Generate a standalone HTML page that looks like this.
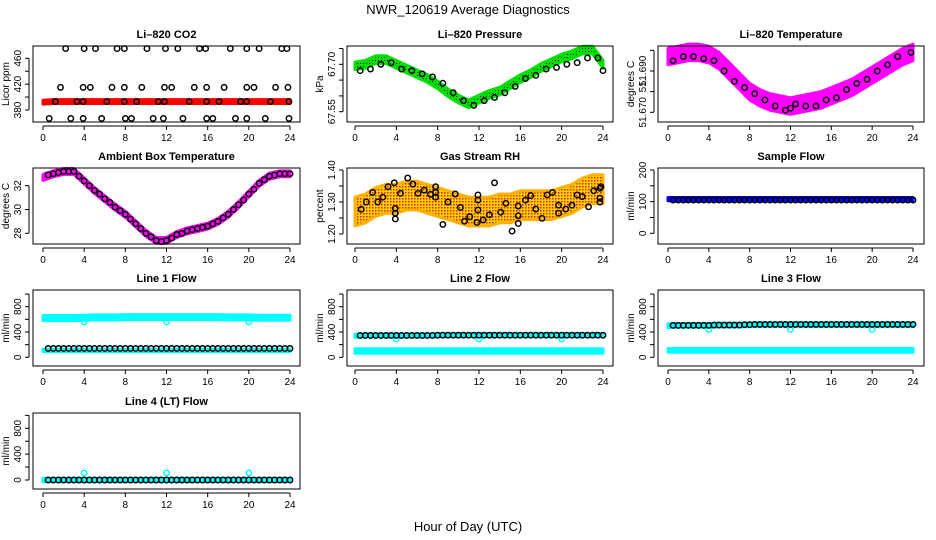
<!DOCTYPE html>
<html><head><meta charset="utf-8"><style>
html,body{margin:0;padding:0;background:#fff;}
svg{display:block;font-family:"Liberation Sans",Arial,sans-serif;}
</style></head><body>
<svg id="chart" width="936" height="540" viewBox="0 0 936 540">
<defs>
<pattern id="greenDots" width="3" height="3" patternUnits="userSpaceOnUse"><rect width="3" height="3" fill="#00e000"/><rect width="1" height="1" fill="#000"/></pattern>
<pattern id="orangeDots" width="3" height="3" patternUnits="userSpaceOnUse"><rect width="3" height="3" fill="#ffd000"/><rect width="1.5" height="1.5" fill="#e02000"/></pattern>
</defs>
<text x="468" y="14" text-anchor="middle" font-size="13">NWR_120619  Average Diagnostics</text>
<text x="468" y="531" text-anchor="middle" font-size="13">Hour of Day (UTC)</text>
</svg>
<script>
// ---------- data ----------
const xTicks = [0,4,8,12,16,20,24];
const HOURS = [0,1,2,3,4,5,6,7,8,9,10,11,12,13,14,15,16,17,18,19,20,21,22,23,24];
const HALF = [0.5,1,1.5,2,2.5,3,3.5,4,4.5,5,5.5,6,6.5,7,7.5,8,8.5,9,9.5,10,10.5,11,11.5,12,12.5,13,13.5,14,14.5,15,15.5,16,16.5,17,17.5,18,18.5,19,19.5,20,20.5,21,21.5,22,22.5,23,23.5,24];

// CO2
const co2Band = [392,393,393,393,393,393,393,393,393,393,393,393,393,393,393,393,393,393,393,393,393,393,393,393,393];
const co2Hours = [2.2,4.0,5.1,7.2,7.9,10.1,11.9,13.1,15.2,15.8,18.2,19.8,21.0,23.2,23.7, 1.7,3.9,4.6,6.7,7.9,9.6,11.8,12.5,14.7,15.9,17.6,19.8,20.5,22.6,23.8, 1.2,3.3,3.9,6.2,7.9,9.1,11.2,11.8,14.2,15.9,17.1,19.2,19.8,22.1,23.9, 0.6,2.7,3.9,5.7,8.0,8.6,10.7,11.7,13.6,15.9,16.5,18.7,19.8,21.6,23.9];
const co2Vals = [475,475,475,475,475,475,475,475,475,475,475,475,475,475,475, 415,415,415,415,415,415,415,415,415,415,415,415,415,415,415, 393,393,393,393,393,393,393,393,393,393,393,393,393,393,393, 367,367,367,367,367,367,367,367,367,367,367,367,367,367,367];

// Pressure
const presBand = [67.695,67.70,67.715,67.715,67.70,67.685,67.67,67.655,67.635,67.61,67.59,67.575,67.59,67.605,67.615,67.635,67.655,67.67,67.69,67.705,67.72,67.73,67.745,67.745,67.70];
const presHours = [0.5,1.5,2.5,3.5,4.5,5.5,6.5,7.5,8.5,9.5,10.5,11.5,12.5,13.5,14.5,15.5,16.5,17.5,18.5,19.5,20.5,21.5,22.5,23.5,24];
const presVals = [67.68,67.685,67.70,67.705,67.685,67.68,67.67,67.66,67.64,67.61,67.585,67.57,67.585,67.595,67.61,67.63,67.655,67.665,67.685,67.69,67.70,67.705,67.72,67.72,67.68];

// Li-820 temperature
const tempBand = [51.697,51.698,51.699,51.699,51.698,51.695,51.690,51.685,51.680,51.677,51.675,51.674,51.673,51.674,51.675,51.676,51.678,51.680,51.682,51.685,51.688,51.691,51.694,51.697,51.699];
const tempHours = [0.5,1.5,2.5,3.5,4.5,5.5,6.5,7.5,8.5,9.5,10.5,11.5,12,12.5,13.5,14.5,15.5,16.5,17.5,18.5,19.5,20.5,21.5,22.5,23.8];
const tempVals = [51.695,51.697,51.697,51.696,51.695,51.690,51.685,51.682,51.679,51.676,51.673,51.671,51.672,51.674,51.673,51.673,51.676,51.677,51.681,51.684,51.686,51.690,51.693,51.697,51.699];

// Ambient box temperature
const ambBand = [32.7,33.0,33.2,33.2,32.4,31.6,30.9,30.2,29.6,28.8,28.0,27.4,27.4,27.9,28.2,28.4,28.6,29.0,29.6,30.4,31.3,32.2,32.8,33.0,33.0];
const ambVals = [32.9,33.0,33.1,33.2,33.2,33.2,32.8,32.4,32.0,31.6,31.3,30.9,30.6,30.2,29.9,29.6,29.2,28.8,28.4,28.0,27.7,27.4,27.3,27.4,27.6,27.9,28.0,28.2,28.3,28.4,28.5,28.6,28.8,29.0,29.3,29.6,30.0,30.4,30.8,31.3,31.7,32.2,32.5,32.8,32.9,33.0,33.0,33.0];

// Gas stream RH
const rhBand = [1.27,1.28,1.30,1.31,1.31,1.32,1.32,1.31,1.30,1.29,1.28,1.27,1.27,1.27,1.28,1.28,1.29,1.29,1.29,1.29,1.30,1.31,1.33,1.34,1.34];
const rhHours = [0.6,1.1,1.7,2.2,2.7,3.2,3.8,3.9,3.9,3.9,4.4,5.1,5.6,6.1,6.7,7.3,7.8,7.8,7.8,8.5,9.0,9.7,10.2,10.6,11.1,11.8,11.9,11.9,11.9,12.4,13.0,13.5,14.1,14.6,15.2,15.8,15.8,15.8,16.5,17.0,17.5,18.1,18.6,19.1,19.7,19.7,20.4,21.0,21.5,22.0,22.6,23.1,23.7,23.8,23.7,23.7];
const rhVals = [1.277,1.30,1.33,1.30,1.315,1.348,1.36,1.28,1.265,1.247,1.327,1.375,1.356,1.327,1.337,1.324,1.348,1.33,1.315,1.23,1.30,1.325,1.283,1.24,1.254,1.236,1.275,1.322,1.306,1.244,1.26,1.36,1.268,1.296,1.209,1.2875,1.257,1.233,1.306,1.32,1.278,1.249,1.322,1.33,1.29,1.265,1.278,1.29,1.322,1.317,1.285,1.335,1.343,1.348,1.312,1.30];

// Sample flow
const sampBand = [108,108,108,108,108,108,108,108,108,108,108,108,108,108,108,108,108,108,108,108,108,108,108,108,108];
const sampVals = [105,105,105,105,105,105,105,105,105,105,105,105,105,105,105,105,105,105,105,105,105,105,105,105,105,105,105,105,105,105,105,105,105,105,105,105,105,105,105,105,105,105,105,105,105,105,105,105];

// Line flows
const l1Cyan = [620,620,620,620,625,630,630,630,635,635,635,635,635,635,635,635,635,635,630,630,630,625,625,625,625];
const l1Black = [140,140,140,140,140,140,140,140,140,140,140,140,140,140,140,140,140,140,140,140,140,140,140,140,140,140,140,140,140,140,140,140,140,140,140,140,140,140,140,140,140,140,140,140,140,140,140,140];
const l1LowCyan = [110,110,110,110,110,110,110,110,110,110,110,110,110,110,110,110,110,110,110,110,110,110,110,110,110];
const l2Cyan = [100,100,100,100,100,100,100,100,100,100,100,100,100,100,100,100,100,100,100,100,100,100,100,100,100];
const l2HighCyan = [340,345,345,345,345,345,345,345,350,350,350,350,350,350,350,350,350,350,350,350,350,350,350,350,350];
const l2Black = [345,345,345,345,345,345,345,345,345,345,345,345,345,345,345,350,350,350,350,350,350,350,350,350,350,350,350,350,350,350,350,350,350,350,350,350,350,350,350,350,350,350,350,350,350,350,350,350];
const l3Cyan = [110,110,110,110,110,110,110,110,110,110,110,110,110,110,110,110,110,110,110,110,110,110,110,110,110];
const l3HighCyan = [500,505,505,505,505,510,510,510,515,515,515,515,515,515,515,515,515,515,515,515,515,515,515,515,515];
const l3Black = [505,505,505,505,505,505,505,505,510,510,510,510,510,510,515,515,520,520,520,520,520,520,520,520,520,520,520,520,520,520,520,520,520,520,520,520,520,520,520,520,520,520,520,520,520,520,520,520];
const l4Cyan = [0,0,0,0,0,0,0,0,0,0,0,0,0,0,0,0,0,0,0,0,0,0,0,0,0];
const l4Black = [0,0,0,0,0,0,0,0,0,0,0,0,0,0,0,0,0,0,0,0,0,0,0,0,0,0,0,0,0,0,0,0,0,0,0,0,0,0,0,0,0,0,0,0,0,0,0,0];
const outlierHours = [4,12,20];
const l1Outliers = [560,560,560];
const l2Outliers = [290,290,290];
const l3Outliers = [440,440,440];
const l4Outliers = [110,110,110];

// ---------- drawing ----------
const NS = 'http://www.w3.org/2000/svg';
const svg = document.getElementById('chart');
function mk(tag, attrs, parent){ const e=document.createElementNS(NS,tag); for(const k in attrs) e.setAttribute(k,attrs[k]); (parent||svg).appendChild(e); return e; }

function panel(p){
  const g = mk('g',{});
  
  
  const xs = h => p.xa + (p.xb - p.xa) * h / 24;
  const ys = v => p.p1 + (p.p2 - p.p1) * (v - p.v1) / (p.v2 - p.v1);
  // series
  p.series.forEach(s=>{
    if(s.type==='band'){
      const top=[], bot=[];
      s.h.forEach((h,i)=>{ top.push(xs(h)+','+ys(s.v[i]+s.w)); bot.unshift(xs(h)+','+ys(s.v[i]-s.w)); });
      const poly = mk('polygon',{points:top.concat(bot).join(' '), fill:s.fill, stroke:s.stroke||s.fill, 'stroke-width':3, 'stroke-linejoin':'round'}, g);
      
      
    } else {
      const sg = mk('g',{}, g);
      
      
      s.h.forEach((h,i)=>{
        const c = mk('circle',{cx:xs(h), cy:ys(s.v[i]), r:2.7, fill:'none', stroke:s.color, 'stroke-width':1.5}, sg);
        
        
      });
    }
  });
  // box
  const box = mk('rect',{x:p.x0, y:p.y0, width:p.x1-p.x0, height:p.y1-p.y0, fill:'none', stroke:'#000', 'stroke-width':1}, g);
  
  
  // title
  const t = mk('text',{x:(p.x0+p.x1)/2, y:p.y0-8, 'text-anchor':'middle', 'font-size':11, 'font-weight':'bold'}, g);
  t.textContent = p.title;
  
  
  // x axis
  const xa = mk('g',{}, g);
  
  
  mk('line',{x1:xs(0), x2:xs(24), y1:p.y1+4, y2:p.y1+4, stroke:'#000'}, xa);
  xTicks.forEach(h=>{
    mk('line',{x1:xs(h), x2:xs(h), y1:p.y1+4, y2:p.y1+8, stroke:'#000'}, xa);
    const tl = mk('text',{x:xs(h), y:p.y1+19, 'text-anchor':'middle', 'font-size':10}, xa);
    tl.textContent = h;
    
    
  });
  // y axis
  const ya = mk('g',{}, g);
  
  
  const ax = p.x0-4;
  mk('line',{x1:ax, x2:ax, y1:ys(p.ticks[0]), y2:ys(p.ticks[p.ticks.length-1]), stroke:'#000'}, ya);
  p.ticks.forEach(v=>{ mk('line',{x1:ax-4, x2:ax, y1:ys(v), y2:ys(v), stroke:'#000'}, ya); });
  p.labels.forEach((v,i)=>{
    const y = ys(v), x = ax-8;
    const tl = mk('text',{x:x, y:y, 'text-anchor':'middle', 'font-size':10, transform:'rotate(-90 '+x+' '+y+')'}, ya);
    tl.textContent = p.labelText ? p.labelText[i] : v;
    
    
  });
  const yl = mk('text',{x:p.x0-24, y:(p.y0+p.y1)/2, 'text-anchor':'middle', 'font-size':10, transform:'rotate(-90 '+(p.x0-24)+' '+((p.y0+p.y1)/2)+')'}, g);
  yl.textContent = p.ylab;
  
  
}

const C1={x0:33,x1:300,xa:43,xb:290}, C2={x0:347,x1:613,xa:355,xb:603}, C3={x0:658,x1:924,xa:668,xb:913};
const R1={y0:46,y1:122}, R2={y0:168,y1:244}, R3={y0:290,y1:366}, R4={y0:413,y1:489};
const flowTicks=[0,200,400,600,800,1000], flowLabels=[0,400,800];
const CY='#00ffff';

panel(Object.assign({name:'co2-panel',title:'Li\u2013820 CO2',ylab:'Licor ppm',v1:380,p1:110,v2:460,p2:58.3,ticks:[380,400,420,440,460],labels:[380,420,460],
  series:[{type:'band',name:'co2-red-band',h:HOURS,v:co2Band,w:3,fill:'#ff0000'},{type:'pts',name:'co2-black',h:co2Hours,v:co2Vals,color:'#000'}]},C1,R1));
panel(Object.assign({name:'pressure-panel',title:'Li\u2013820 Pressure',ylab:'kPa',v1:67.55,p1:111.7,v2:67.70,p2:64.3,ticks:[67.55,67.60,67.65,67.70,67.75],labels:[67.55,67.70],labelText:['67.55','67.70'],
  series:[{type:'band',name:'pressure-green-band',h:HOURS,v:presBand,w:0.012,fill:'url(#greenDots)',stroke:'#00e000'},{type:'pts',name:'pressure-black',h:presHours,v:presVals,color:'#000'}]},C2,R1));
panel(Object.assign({name:'li820-temp-panel',title:'Li\u2013820 Temperature',ylab:'degrees C',v1:51.670,p1:112.3,v2:51.690,p2:71,ticks:[51.670,51.680,51.690,51.700],labels:[51.670,51.683,51.690],labelText:['51.670','51.','51.690'],
  series:[{type:'band',name:'temp-magenta-band',h:HOURS,v:tempBand,w:0.004,fill:'#ff00ff'},{type:'pts',name:'temp-black',h:tempHours,v:tempVals,color:'#000'}]},C3,R1));
panel(Object.assign({name:'ambient-temp-panel',title:'Ambient Box Temperature',ylab:'degrees C',v1:28,p1:233.3,v2:32,p2:185.7,ticks:[28,30,32],labels:[28,30,32],
  series:[{type:'band',name:'ambient-magenta-band',h:HOURS,v:ambBand,w:0.25,fill:'#ff00ff'},{type:'pts',name:'ambient-black',h:HALF,v:ambVals,color:'#000'}]},C1,R2));
panel(Object.assign({name:'rh-panel',title:'Gas Stream RH',ylab:'percent',v1:1.20,p1:234,v2:1.40,p2:170,ticks:[1.20,1.25,1.30,1.35,1.40],labels:[1.20,1.30,1.40],labelText:['1.20','1.30','1.40'],
  series:[{type:'band',name:'rh-orange-cloud',h:HOURS,v:rhBand,w:0.045,fill:'url(#orangeDots)',stroke:'#ffb000'},{type:'pts',name:'rh-black',h:rhHours,v:rhVals,color:'#000'}]},C2,R2));
panel(Object.assign({name:'sample-flow-panel',title:'Sample Flow',ylab:'ml/min',v1:0,p1:233.3,v2:200,p2:170,ticks:[0,50,100,150,200],labels:[0,100,200],
  series:[{type:'band',name:'sample-blue-band',h:HOURS,v:sampBand,w:5,fill:'#0000ff'},{type:'pts',name:'sample-black',h:HALF,v:sampVals,color:'#000'}]},C3,R2));
panel(Object.assign({name:'line1-flow-panel',title:'Line 1 Flow',ylab:'ml/min',v1:0,p1:357.3,v2:800,p2:306.7,ticks:flowTicks,labels:flowLabels,
  series:[{type:'band',name:'line1-cyan-band',h:HOURS,v:l1Cyan,w:40,fill:CY},{type:'band',name:'line1-cyan-low',h:HOURS,v:l1LowCyan,w:20,fill:CY},{type:'pts',name:'line1-cyan-outliers',h:outlierHours,v:l1Outliers,color:CY},{type:'pts',name:'line1-black',h:HALF,v:l1Black,color:'#000'}]},C1,R3));
panel(Object.assign({name:'line2-flow-panel',title:'Line 2 Flow',ylab:'ml/min',v1:0,p1:357.3,v2:800,p2:306.7,ticks:flowTicks,labels:flowLabels,
  series:[{type:'band',name:'line2-cyan-band',h:HOURS,v:l2Cyan,w:35,fill:CY},{type:'band',name:'line2-cyan-high',h:HOURS,v:l2HighCyan,w:25,fill:CY},{type:'pts',name:'line2-cyan-outliers',h:outlierHours,v:l2Outliers,color:CY},{type:'pts',name:'line2-black',h:HALF,v:l2Black,color:'#000'}]},C2,R3));
panel(Object.assign({name:'line3-flow-panel',title:'Line 3 Flow',ylab:'ml/min',v1:0,p1:357.3,v2:800,p2:306.7,ticks:flowTicks,labels:flowLabels,
  series:[{type:'band',name:'line3-cyan-band',h:HOURS,v:l3Cyan,w:30,fill:CY},{type:'band',name:'line3-cyan-high',h:HOURS,v:l3HighCyan,w:30,fill:CY},{type:'pts',name:'line3-cyan-outliers',h:outlierHours,v:l3Outliers,color:CY},{type:'pts',name:'line3-black',h:HALF,v:l3Black,color:'#000'}]},C3,R3));
panel(Object.assign({name:'line4-flow-panel',title:'Line 4 (LT) Flow',ylab:'ml/min',v1:0,p1:480,v2:800,p2:428.3,ticks:flowTicks,labels:flowLabels,
  series:[{type:'band',name:'line4-cyan-band',h:HOURS,v:l4Cyan,w:25,fill:CY},{type:'pts',name:'line4-cyan-outliers',h:outlierHours,v:l4Outliers,color:CY},{type:'pts',name:'line4-black',h:HALF,v:l4Black,color:'#000'}]},C1,R4));
</script>
</body></html>
